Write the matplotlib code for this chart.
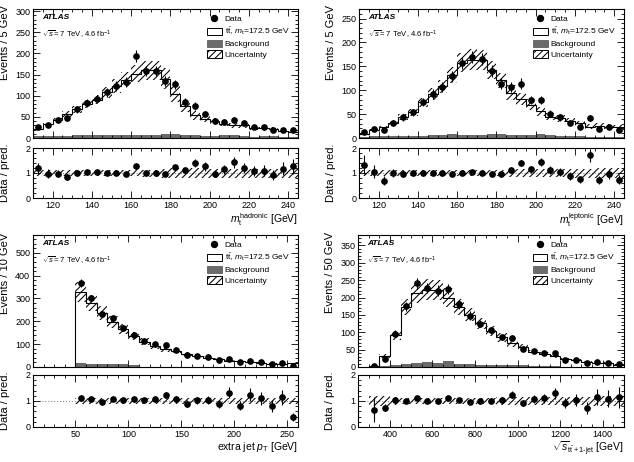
import numpy as np
import matplotlib
matplotlib.use('Agg')
import matplotlib.pyplot as plt
from matplotlib.patches import Patch
from matplotlib.lines import Line2D
from matplotlib.ticker import MultipleLocator

plt.rcParams['font.family'] = ['Liberation Sans', 'DejaVu Sans']
plt.rcParams['mathtext.fontset'] = 'custom'
plt.rcParams['mathtext.rm'] = 'Liberation Sans'
plt.rcParams['mathtext.it'] = 'Liberation Sans:italic'
plt.rcParams['mathtext.bf'] = 'Liberation Sans:bold'
plt.rcParams['hatch.linewidth'] = 0.75

# ---------------- data ----------------
# Panel 1: m_t hadronic, 5 GeV bins from 110 to 245
had_start, had_width, had_nbins = 110, 5, 27
had_data = [26, 31, 42, 47, 68, 82, 93, 108, 123, 133, 193, 158, 158, 134, 127,
            85, 76, 57, 40, 39, 43, 36, 26, 25, 20, 20, 19]
had_pred = [22, 32, 43, 56, 68, 80, 91, 108, 123, 138, 152, 160, 160, 140, 104,
            76, 54, 45, 41, 34, 30, 30, 24, 23, 22, 17, 15]
had_bkg = [4, 4, 5, 5, 6, 6, 8, 7, 7, 8, 8, 6, 8, 9, 9, 7, 6, 5, 5, 6, 6, 5, 3, 4, 4, 3, 3]
had_unc = [0.12, 0.12, 0.12, 0.12, 0.12, 0.12, 0.12, 0.12, 0.13, 0.13, 0.13, 0.14, 0.14,
           0.18, 0.19, 0.19, 0.19, 0.18, 0.18, 0.18, 0.18, 0.18, 0.18, 0.18, 0.18, 0.18, 0.18]

# Panel 2: m_t leptonic, 5 GeV bins from 110 to 245
lep_start, lep_width, lep_nbins = 110, 5, 27
lep_data = [12, 18, 16, 32, 43, 54, 76, 92, 106, 129, 158, 169, 166, 140, 114,
            106, 114, 80, 80, 51, 43, 32, 23, 41, 19, 23, 16]
lep_pred = [9, 17, 23, 32, 44, 54, 75, 92, 108, 132, 158, 164, 163, 143, 121,
            95, 81, 70, 56, 45, 41, 36, 31, 24, 26, 24, 22]
lep_bkg = [3, 4, 4, 5, 5, 5, 5, 6, 7, 9, 7, 6, 7, 9, 8, 6, 6, 7, 8, 6, 5, 4, 4, 3, 3, 3, 3]
lep_unc = [0.13] * 15 + [0.16, 0.16, 0.17, 0.17, 0.17, 0.17, 0.18, 0.18, 0.18, 0.19, 0.19, 0.2]

# Panel 3: extra jet pT, 10 GeV bins from 50 to 260
pt_start, pt_width, pt_nbins = 50, 10, 21
pt_data = [368, 300, 232, 213, 171, 142, 114, 99, 95, 73, 51, 50, 42, 32, 37,
           23, 26, 20, 12, 16, 6]
pt_pred = [328, 280, 237, 197, 166, 134, 111, 93, 77, 68, 57, 49, 41, 36, 28,
           28, 21, 18, 15, 14, 16]
pt_bkg = [17, 13, 12, 12, 11, 10, 1, 1, 1, 1, 1, 0.5, 0.5, 0.5, 0.5, 0.5, 0.5, 0.5, 0.5, 0.5, 0.5]
pt_unc = [0.13] * 21

# Panel 4: sqrt(s) ttbar+1-jet, 50 GeV bins from 300 to 1500
rs_start, rs_width, rs_nbins = 300, 50, 24
rs_data = [2, 24, 96, 175, 241, 227, 220, 224, 180, 148, 125, 106, 87, 84, 53,
           46, 41, 40, 21, 21, 11, 14, 12, 8]
rs_pred = [3, 32, 92, 172, 213, 223, 221, 200, 172, 151, 126, 104, 85, 68, 57,
           43, 37, 31, 23, 20, 15, 12, 11, 7]
rs_bkg = [1, 3, 5, 10, 12, 14, 12, 16, 9, 9, 7, 6, 5, 5, 6, 2, 2, 2, 1, 1, 1, 1, 1, 1]
rs_unc = [0.2, 0.2, 0.14, 0.13, 0.13, 0.13, 0.13, 0.13, 0.13, 0.13, 0.13, 0.13,
          0.14, 0.14, 0.15, 0.15, 0.15, 0.16, 0.16, 0.17, 0.17, 0.18, 0.18, 0.18]

BKG_COLOR = '#6b6b6b'
W, H = 634, 462
fig = plt.figure(figsize=(W / 100, H / 100), dpi=100)


def rect(x0, x1, y0, y1):
    return [x0 / W, 1 - y1 / H, (x1 - x0) / W, (y1 - y0) / H]


def style(ax, xmaj, xmin, ymaj, ymin):
    ax.xaxis.set_major_locator(MultipleLocator(xmaj))
    ax.xaxis.set_minor_locator(MultipleLocator(xmin))
    ax.yaxis.set_major_locator(MultipleLocator(ymaj))
    ax.yaxis.set_minor_locator(MultipleLocator(ymin))
    ax.tick_params(which='both', direction='in', top=True, right=True,
                   labelsize=6.5, width=0.6, pad=2)
    ax.tick_params(which='major', length=5)
    ax.tick_params(which='minor', length=2.5)
    for s in ax.spines.values():
        s.set_linewidth(0.8)


def panel(main_r, ratio_r, start, width, nbins, data, pred, bkg, unc,
          xlim, ylim, xmaj, xmin, ymaj, ymin, ylabel, xlabel, label_top):
    edges = start + width * np.arange(nbins + 1)
    centers = edges[:-1] + width / 2
    data = np.asarray(data, float)
    pred = np.asarray(pred, float)
    bkg = np.asarray(bkg, float)
    unc = np.asarray(unc, float)

    ax = fig.add_axes(rect(*main_r))
    ax.bar(edges[:-1], bkg, width=width, align='edge', color=BKG_COLOR,
           linewidth=0, zorder=1)
    ax.stairs(pred, edges, baseline=0, color='k', linewidth=0.8, zorder=2)
    ax.bar(edges[:-1], 2 * unc * pred, bottom=pred * (1 - unc), width=width,
           align='edge', fill=False, hatch='/////', linewidth=0,
           edgecolor='k', zorder=3)
    ax.errorbar(centers, data, yerr=np.sqrt(data), fmt='o', color='k',
                markersize=3.8, elinewidth=0.8, capsize=0, zorder=4)
    ax.set_xlim(*xlim)
    ax.set_ylim(*ylim)
    style(ax, xmaj, xmin, ymaj, ymin)
    ax.tick_params(labelbottom=False)
    ax.set_ylabel(ylabel, fontsize=8, loc='top')
    ax.yaxis.set_label_coords(-0.085, label_top)

    ax.text(0.035, 0.935, 'ATLAS', transform=ax.transAxes, fontsize=6,
            fontweight='bold', fontstyle='italic', va='center')
    ax.text(0.035, 0.80, r'$\sqrt{s}$= 7 TeV, 4.6 fb$^{-1}$', transform=ax.transAxes,
            fontsize=5.5, va='center')

    handles = [
        Line2D([], [], marker='o', color='k', linestyle='none', markersize=4.3),
        Patch(facecolor='white', edgecolor='k', linewidth=0.7),
        Patch(facecolor=BKG_COLOR, edgecolor=BKG_COLOR, linewidth=0.7),
        Patch(facecolor='white', edgecolor='k', hatch='/////', linewidth=0.7),
    ]
    labels = ['Data', r'$\mathrm{t\bar{t}}$, $m_{\mathrm{t}}$=172.5 GeV',
              'Background', 'Uncertainty']
    ax.legend(handles, labels, loc='upper left', bbox_to_anchor=(0.632, 1.005),
              frameon=False, fontsize=6, handlelength=1.75, handleheight=0.95,
              labelspacing=0.27, handletextpad=0.35, borderpad=0.3)

    rx = fig.add_axes(rect(*ratio_r))
    rx.axhline(1, color='#888888', linestyle=':', linewidth=0.8, zorder=1)
    rx.bar(edges[:-1], 2 * unc, bottom=1 - unc, width=width, align='edge',
           fill=False, hatch='/////', linewidth=0, edgecolor='k', zorder=2)
    rx.errorbar(centers, data / pred, yerr=np.sqrt(data) / pred, fmt='o',
                color='k', markersize=3.8, elinewidth=0.8, capsize=0, zorder=4)
    rx.set_xlim(*xlim)
    rx.set_ylim(0, 2)
    style(rx, xmaj, xmin, 1, 0.2)
    rx.set_ylabel('Data / pred.', fontsize=8)
    rx.yaxis.set_label_coords(-0.085, 0.5)
    rx.set_xlabel(xlabel, fontsize=7.5, loc='right', labelpad=1)


panel((33, 298, 9, 138), (33, 298, 148, 198), had_start, had_width, had_nbins,
      had_data, had_pred, had_bkg, had_unc, (110, 245), (0, 305), 20, 5, 50, 10,
      'Events / 5 GeV', r'$m_{\mathrm{t}}^{\mathrm{hadronic}}$ [GeV]', 1.03)
panel((359, 624, 9, 138), (359, 624, 148, 198), lep_start, lep_width, lep_nbins,
      lep_data, lep_pred, lep_bkg, lep_unc, (110, 245), (0, 270), 20, 5, 50, 10,
      'Events / 5 GeV', r'$m_{\mathrm{t}}^{\mathrm{leptonic}}$ [GeV]', 1.03)
panel((33, 298, 235, 367), (33, 298, 375, 427), pt_start, pt_width, pt_nbins,
      pt_data, pt_pred, pt_bkg, pt_unc, (10, 260), (0, 578), 50, 10, 100, 20,
      'Events / 10 GeV', r'extra jet $p_{\mathrm{T}}$ [GeV]', 1.02)
panel((358, 624, 235, 367), (358, 624, 375, 427), rs_start, rs_width, rs_nbins,
      rs_data, rs_pred, rs_bkg, rs_unc, (250, 1500), (0, 380), 200, 50, 50, 10,
      'Events / 50 GeV', r'$\sqrt{s}_{\mathrm{t\bar{t}+1\text{-}jet}}$ [GeV]', 1.02)

fig.savefig('out.png', dpi=100)
